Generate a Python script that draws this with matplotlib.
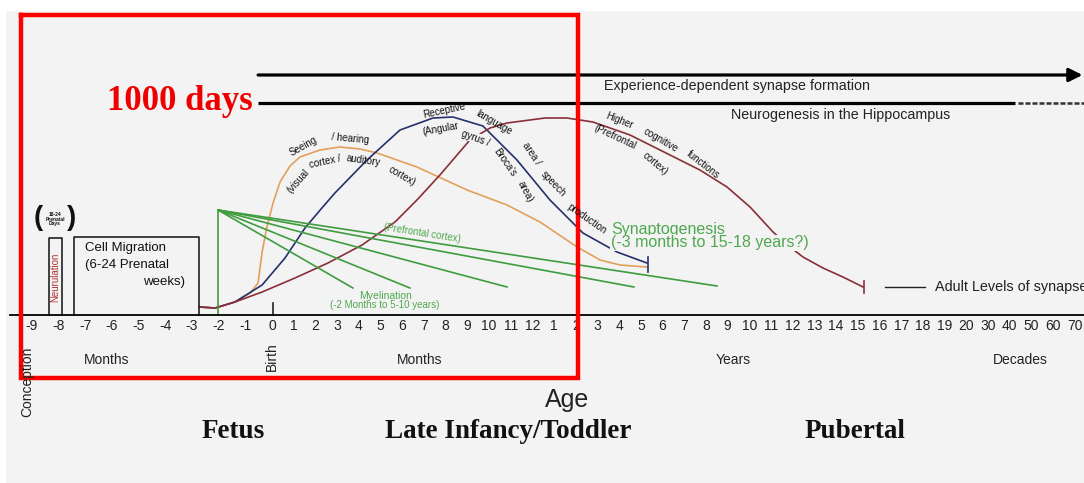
import numpy as np
import matplotlib.pyplot as plt

# x = slot on the age axis: -9..-1 prenatal months, 0 birth, 1..12 months,
#     13..32 years 1..20, 33..37 decades 30..70
# y = relative level above the axis line
tick_pos = list(range(-9, 38))
tick_lab = ([str(m) for m in range(-9, 0)] + ['0']
            + [str(m) for m in range(1, 13)]
            + [str(y) for y in range(1, 21)]
            + [str(d) for d in range(30, 80, 10)])

seeing_t = [-2.73, -2.13, -1.39, -0.82, -0.52, -0.37, -0.19, 0.05, 0.37, 0.83,
            1.29, 2.21, 3.13, 4.06, 4.84, 6.68, 8.99, 10.83, 12.35, 14.06,
            15.12, 16.04, 17.28]
seeing_y = [8, 7, 13, 22, 32, 63, 88, 112, 133, 149,
            158, 165, 168, 166, 162, 148, 125, 110, 93, 68,
            55, 50, 48]

language_t = [-2.73, -2.13, -1.39, -0.37, 0.60, 1.52, 2.30, 2.90, 4.38, 5.90,
              7.42, 8.34, 9.72, 11.29, 12.81, 14.33, 15.90, 17.28]
language_y = [8, 7, 13, 30, 57, 87, 107, 122, 155, 185,
              197, 198, 189, 155, 115, 82, 63, 52]

higher_t = [-2.73, -2.13, -1.39, -0.37, 1.06, 2.58, 4.15, 5.67, 6.68, 7.74,
            9.12, 10.05, 10.83, 12.58, 13.59, 14.79, 16.50, 17.88, 19.72, 20.97,
            22.03, 23.09, 23.87, 24.47, 25.39, 26.31, 27.24]
higher_y = [8, 7, 13, 23, 37, 52, 70, 93, 115, 140,
            175, 187, 192, 197, 197, 193, 180, 165, 145, 128,
            108, 83, 68, 58, 47, 38, 28]

myelin_start = (-2.02, 105)
myelin_end_t = [3.73, 6.36, 10.83, 16.68, 20.51]
myelin_end_y = [27, 27, 28, 28, 29]

# neurulation and cell migration boxes: (left, right, top)
stage_boxes = [(-8.35, -7.87, 77), (-7.42, -2.73, 78)]

W, H = 1084, 483
BG = '#f3f3f3'
ORANGE = '#e2a05a'
BLUE = '#25306c'
MAROON = '#8a2f38'
GREEN = '#3f9c3f'
TGREEN = '#4fa84f'
SANS = 'Liberation Sans'
SERIF = 'Liberation Serif'

PRE = 1.23  # prenatal months are drawn wider


def fwd(t):
    t = np.asarray(t, float)
    return np.where(t < 0, t * PRE, t)


def inv(u):
    u = np.asarray(u, float)
    return np.where(u < 0, u / PRE, u)


fig = plt.figure(figsize=(W / 100, H / 100), dpi=100)
fig.patch.set_facecolor(BG)
fig.patches.append(plt.Rectangle((0, 1 - 10 / H), 1, 10 / H, color='white',
                                 transform=fig.transFigure))
fig.patches.append(plt.Rectangle((0, 0), 5 / W, 1, color='white',
                                 transform=fig.transFigure))
ax = fig.add_axes([0, 0, 1, 1])
ax.set_facecolor('none')
ax.set_xscale('function', functions=(fwd, inv))
ax.set_xlim(-10.19, 37.42)
ax.set_ylim(-168, 315)

for s in ['top', 'right', 'left']:
    ax.spines[s].set_visible(False)
ax.spines['bottom'].set_position(('data', 0))
ax.spines['bottom'].set_linewidth(1.3)
ax.spines['bottom'].set_bounds(-9.8, 37.42)
ax.set_yticks([])
ax.set_xticks(tick_pos, tick_lab)
ax.tick_params(axis='x', length=0, pad=3, labelsize=10, labelcolor='#222')
for lab in ax.get_xticklabels():
    lab.set_family(SANS)


def ft(px, py, s, **kw):
    kw.setdefault('ha', 'center')
    kw.setdefault('va', 'center')
    kw.setdefault('family', SANS)
    return fig.text(px / W, 1 - py / H, s, **kw)


# curves
ax.plot(seeing_t, seeing_y, color=ORANGE, lw=1.2)
ax.plot(language_t, language_y, color=BLUE, lw=1.2)
ax.plot(higher_t, higher_y, color=MAROON, lw=1.2)
ax.plot([language_t[-1] + 0.04] * 2, [43, 58], color=BLUE, lw=1.2)
ax.plot([higher_t[-1] + 0.05] * 2, [22, 34], color=MAROON, lw=1.2)

# myelination fan
x0, y0 = myelin_start
ax.plot([x0, x0], [0, y0], color=GREEN, lw=1.2)
for te, ye in zip(myelin_end_t, myelin_end_y):
    ax.plot([x0, te], [y0, ye], color=GREEN, lw=1.2)

# stage boxes
for l, r, top in stage_boxes:
    ax.plot([l, l, r, r], [0, top, top, 0], color='#222', lw=1.2)
ax.plot([0.05, 0.05], [0, 12], color='#222', lw=1.2)

# top bars
ax.annotate('', xy=(37.35, 240), xytext=(-0.52, 240),
            arrowprops=dict(arrowstyle='-|>', lw=2.3, color='k',
                            mutation_scale=20, shrinkA=0, shrinkB=0))
ax.plot([-0.52, 34.24], [212, 212], color='k', lw=2.3, solid_capstyle='butt')
ax.plot([34.4, 37.42], [212, 212], color='#333', lw=1.8, ls=(0, (2, 0.8)))

# adult level marker
ax.plot([28.25, 30.09], [28, 28], color='#222', lw=1)

# 1000 days box
box_t = [-9.40, 14.10, 14.10, -9.40, -9.40]
box_y = [300, 300, -63, -63, 300]
ax.plot(box_t, box_y, color='#ff0000', lw=3.2, zorder=10,
        solid_joinstyle='miter')

# texts
ft(253, 101, '1000 days', ha='right', family=SERIF, weight='bold',
   color='#ee0000', fontsize=25)
ft(604, 86, 'Experience-dependent synapse formation', ha='left',
   fontsize=10.3, color='#222')
ft(841, 115, 'Neurogenesis in the Hippocampus', fontsize=10.3, color='#222')
ft(935, 287, 'Adult Levels of synapses', ha='left', fontsize=10.4,
   color='#222')
ft(611, 229, 'Synaptogenesis', ha='left', fontsize=11.5, color=TGREEN)
ft(611, 243, '(-3 months to 15-18 years?)', ha='left', fontsize=11.5,
   color=TGREEN, bbox=dict(fc=BG, ec='none', pad=0.5))
ft(422, 233, '(Prefrontal cortex)', fontsize=7, rotation=-9, color=TGREEN)
ft(385, 296, 'Myelination', fontsize=7.5, color=TGREEN)
ft(385, 305, '(-2 Months to 5-10 years)', fontsize=7, color=TGREEN)

ft(85, 248, 'Cell Migration', ha='left', fontsize=9.5, color='#111')
ft(85, 265, '(6-24 Prenatal', ha='left', fontsize=9.5, color='#111')
ft(185, 282, 'weeks)', ha='right', fontsize=9.5, color='#111')
ft(55, 277, 'Neurulation', rotation=90, fontsize=7, color='#b03030')
ft(38, 218, '(', fontsize=20, weight='bold', color='#111')
ft(72, 218, ')', fontsize=20, weight='bold', color='#111')
ft(55, 219, '18-24\nPrenatal\nDays', fontsize=3.5, weight='bold',
   linespacing=0.9, color='#111')

curve_words = [
    ('Seeing', 303, 146, 29), ('/ hearing', 350, 139, -5),
    ('(visual', 298, 181, 48), ('cortex /', 325, 162, 12),
    ('auditory', 363, 160, -8), ('cortex)', 402, 176, -30),
    ('Receptive', 444, 111, 12), ('language', 494, 123, -30),
    ('area /', 531, 154, -56), ('speech', 553, 184, -46),
    ('production', 587, 219, -35),
    ('(Angular', 441, 129, 10), ('gyrus /', 476, 138, -20),
    ('Broca\'s', 505, 162, -55), ('area)', 525, 192, -62),
    ('Higher', 619, 121, -22), ('cognitive', 661, 140, -30),
    ('functions', 703, 165, -38),
    ('(Prefrontal', 615, 137, -25), ('cortex)', 655, 164, -40),
]
for w, px, py, rot in curve_words:
    kw = {}
    if w in ('(Angular', 'gyrus /'):
        kw['bbox'] = dict(fc=BG, ec='none', pad=0.2)
    ft(px, py, w, rotation=rot, rotation_mode='anchor', fontsize=7,
       color='#111', **kw)

ft(27, 382, 'Conception', rotation=90, fontsize=10, color='#222')
ft(107, 360, 'Months', fontsize=10, color='#222')
ft(272, 357, 'Birth', rotation=90, fontsize=10, color='#222')
ft(420, 360, 'Months', fontsize=10, color='#222')
ft(733, 360, 'Years', fontsize=10, color='#222')
ft(1020, 360, 'Decades', fontsize=10, color='#222')
ft(567, 400, 'Age', fontsize=18, color='#222')
for s, px in [('Fetus', 233), ('Late Infancy/Toddler', 508), ('Pubertal', 855)]:
    ft(px, 432, s, family=SERIF, weight='bold', fontsize=19.5, color='#111')

plt.savefig('out.png', dpi=100, facecolor=fig.get_facecolor())
